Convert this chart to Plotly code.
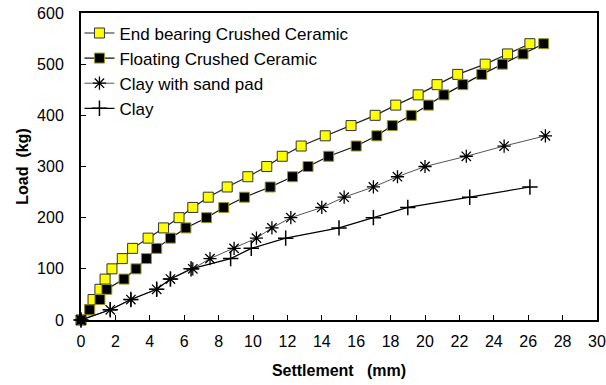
import plotly.graph_objects as go

# Data (Load in kg vs Settlement in mm)
end_bearing_x = [0, 0.5, 0.7, 1.1, 1.4, 1.8, 2.4, 3.0, 3.9, 4.8, 5.7, 6.5, 7.4, 8.5, 9.7,
                 10.8, 11.7, 12.8, 14.2, 15.7, 17.1, 18.3, 19.6, 20.7, 21.9, 23.5, 24.8, 26.1]
end_bearing_y = [0, 20, 40, 60, 80, 100, 120, 140, 160, 180, 200, 220, 240, 260, 280,
                 300, 320, 340, 360, 380, 400, 420, 440, 460, 480, 500, 520, 540]

floating_x = [0, 0.5, 1.1, 1.5, 2.5, 3.2, 3.8, 4.4, 5.2, 6.1, 7.3, 8.3, 9.5, 11.0, 12.3,
              13.2, 14.4, 16.0, 17.2, 18.1, 19.2, 20.2, 21.1, 22.2, 23.3, 24.5, 25.7, 26.9]
floating_y = [0, 20, 40, 60, 80, 100, 120, 140, 160, 180, 200, 220, 240, 260, 280,
              300, 320, 340, 360, 380, 400, 420, 440, 460, 480, 500, 520, 540]

sandpad_x = [0, 1.7, 2.9, 4.4, 5.2, 6.5, 7.5, 8.9, 10.2, 11.1, 12.2, 14.0, 15.3, 17.0,
             18.4, 20.0, 22.4, 24.6, 27.0]
sandpad_y = [0, 20, 40, 60, 80, 100, 120, 140, 160, 180, 200, 220, 240, 260,
             280, 300, 320, 340, 360]

clay_x = [0, 1.7, 2.9, 4.4, 5.2, 6.4, 8.7, 9.9, 11.9, 15.0, 17.0, 19.0, 22.6, 26.1]
clay_y = [0, 20, 40, 60, 80, 100, 120, 140, 160, 180, 200, 220, 240, 260]

x_ticks = list(range(0, 31, 2))
y_ticks = list(range(0, 601, 100))

FONT = "Liberation Sans, Arial, sans-serif"

fig = go.Figure()
fig.add_trace(go.Scatter(
    x=end_bearing_x, y=end_bearing_y, mode="lines+markers",
    name="End bearing Crushed Ceramic",
    line=dict(color="#222222", width=1.2),
    marker=dict(symbol="square", size=10, color="#FFFF00",
                line=dict(color="#333333", width=1)),
    cliponaxis=False))
fig.add_trace(go.Scatter(
    x=floating_x, y=floating_y, mode="lines+markers",
    name="Floating Crushed Ceramic",
    line=dict(color="#111111", width=1.2),
    marker=dict(symbol="square", size=10, color="#000000",
                line=dict(color="#9a9a20", width=1)),
    cliponaxis=False))
fig.add_trace(go.Scatter(
    x=sandpad_x, y=sandpad_y, mode="lines+markers",
    name="Clay with sand pad",
    line=dict(color="#555555", width=1),
    marker=dict(symbol="asterisk-open", size=11, color="#000000",
                line=dict(color="#000000", width=1.3)),
    cliponaxis=False))
fig.add_trace(go.Scatter(
    x=clay_x, y=clay_y, mode="lines+markers",
    name="Clay",
    line=dict(color="#000000", width=1.2),
    marker=dict(symbol="cross-thin-open", size=11, color="#000000",
                line=dict(color="#000000", width=1.5)),
    cliponaxis=False))

fig.update_layout(
    width=606, height=385,
    margin=dict(l=81, r=9, t=13, b=65, autoexpand=False),
    paper_bgcolor="white", plot_bgcolor="white",
    font=dict(family=FONT, size=16, color="#000000"),
    showlegend=True,
    legend=dict(x=-0.003, y=0.992, xanchor="left", yanchor="top",
                bgcolor="rgba(0,0,0,0)", font=dict(size=17, family=FONT),
                itemwidth=30, tracegroupgap=0),
    xaxis=dict(range=[0, 30], tickvals=x_ticks, ticks="inside", ticklen=5,
               tickcolor="#000000", showline=True, mirror=True, linecolor="#000000",
               linewidth=2, showgrid=False, zeroline=False, automargin=False,
               ticklabelstandoff=6,
               title=dict(text="<b>Settlement\u00a0\u00a0\u00a0(mm)</b>",
                          font=dict(size=16, family=FONT), standoff=16)),
    yaxis=dict(range=[0, 600], tickvals=y_ticks, ticks="inside", ticklen=5,
               tickcolor="#000000", showline=True, mirror=True, linecolor="#000000",
               linewidth=2, showgrid=False, zeroline=False, automargin=False,
               ticklabelstandoff=12,
               title=dict(text="<b>Load\u00a0\u00a0(kg)</b>",
                          font=dict(size=16, family=FONT), standoff=4)),
)

fig.write_html("out.html")
